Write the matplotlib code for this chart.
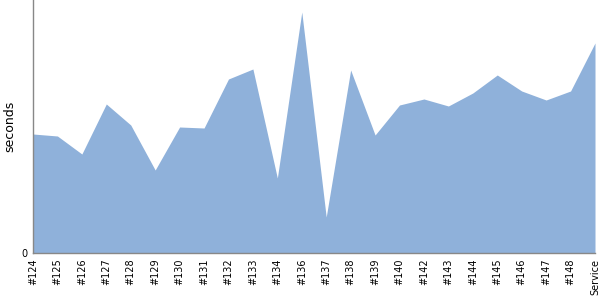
import matplotlib
matplotlib.use("Agg")
import matplotlib.pyplot as plt

builds = ["#124", "#125", "#126", "#127", "#128", "#129", "#130", "#131",
          "#132", "#133", "#134", "#136", "#137", "#138", "#139", "#140",
          "#142", "#143", "#144", "#145", "#146", "#147", "#148", "Service"]
seconds = [11.9, 11.7, 9.9, 14.9, 12.8, 8.3, 12.6, 12.5,
           17.4, 18.4, 7.5, 24.1, 3.6, 18.3, 11.8, 14.8,
           15.4, 14.7, 16.0, 17.8, 16.2, 15.3, 16.2, 21.0]

fig = plt.figure(figsize=(6, 3), dpi=100)
ax = fig.add_axes([33 / 600, 47 / 300, 562 / 600, 253 / 300])

x = list(range(len(builds)))
ax.fill_between(x, seconds, 0, color="#8fb1da", linewidth=0)

ax.set_xlim(0, len(builds) - 1)
ax.set_ylim(0, 25.3)
ax.set_xticks(x)
ax.set_xticklabels(builds, rotation=90, fontsize=7)
ax.set_yticks([0])
ax.set_yticklabels(["0"], fontsize=7)
ax.tick_params(length=0, pad=4)

# y label placed by hand so it stays inside the figure
fig.text(10 / 600, 1 - 126 / 300, "seconds", rotation=90,
         ha="center", va="center", fontsize=9)

for side in ["top", "right"]:
    ax.spines[side].set_visible(False)
for side in ["left", "bottom"]:
    ax.spines[side].set_color("#888888")
    ax.spines[side].set_linewidth(1)

fig.savefig("out.png", dpi=100)
